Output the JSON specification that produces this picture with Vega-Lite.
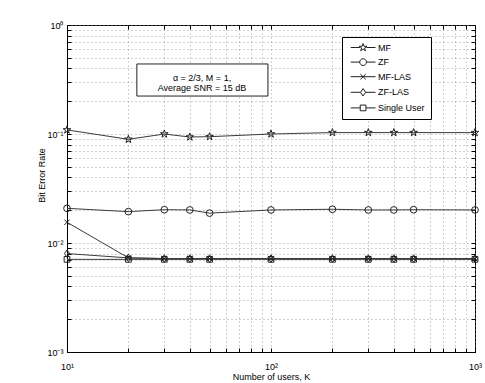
{
  "$schema": "https://vega.github.io/schema/vega-lite/v6.json",
  "width": 408,
  "height": 327,
  "autosize": {"type": "none"},
  "padding": {"left": 67, "top": 25, "right": 10, "bottom": 31},
  "background": "white",
  "config": {
    "font": "Liberation Sans",
    "view": {"stroke": "black", "strokeWidth": 1},
    "axis": {
      "domainColor": "black",
      "tickColor": "black",
      "labelColor": "black",
      "titleColor": "black",
      "labelFontSize": 9,
      "titleFontSize": 9,
      "titleFontWeight": "normal",
      "gridColor": "#8a8a8a",
      "gridDash": [1, 3],
      "gridWidth": 0.8,
      "tickSize": -4,
      "labelOverlap": false,
      "labelFlush": false,
      "labelBound": false
    }
  },
  "data": {
    "values": [
      {"series": "MF", "K": 10, "BER": 0.109},
      {"series": "MF", "K": 20, "BER": 0.0894},
      {"series": "MF", "K": 30, "BER": 0.100},
      {"series": "MF", "K": 40, "BER": 0.0938},
      {"series": "MF", "K": 50, "BER": 0.0945},
      {"series": "MF", "K": 100, "BER": 0.100},
      {"series": "MF", "K": 200, "BER": 0.103},
      {"series": "MF", "K": 300, "BER": 0.103},
      {"series": "MF", "K": 400, "BER": 0.103},
      {"series": "MF", "K": 500, "BER": 0.103},
      {"series": "MF", "K": 1000, "BER": 0.103},
      {"series": "ZF", "K": 10, "BER": 0.0208},
      {"series": "ZF", "K": 20, "BER": 0.0194},
      {"series": "ZF", "K": 30, "BER": 0.0202},
      {"series": "ZF", "K": 40, "BER": 0.0201},
      {"series": "ZF", "K": 50, "BER": 0.0188},
      {"series": "ZF", "K": 100, "BER": 0.0201},
      {"series": "ZF", "K": 200, "BER": 0.0204},
      {"series": "ZF", "K": 300, "BER": 0.0201},
      {"series": "ZF", "K": 400, "BER": 0.0201},
      {"series": "ZF", "K": 500, "BER": 0.0202},
      {"series": "ZF", "K": 1000, "BER": 0.0201},
      {"series": "MF-LAS", "K": 10, "BER": 0.0155},
      {"series": "MF-LAS", "K": 20, "BER": 0.0073},
      {"series": "MF-LAS", "K": 30, "BER": 0.0072},
      {"series": "MF-LAS", "K": 40, "BER": 0.0072},
      {"series": "MF-LAS", "K": 50, "BER": 0.0072},
      {"series": "MF-LAS", "K": 100, "BER": 0.0072},
      {"series": "MF-LAS", "K": 200, "BER": 0.0072},
      {"series": "MF-LAS", "K": 300, "BER": 0.0072},
      {"series": "MF-LAS", "K": 400, "BER": 0.0072},
      {"series": "MF-LAS", "K": 500, "BER": 0.0072},
      {"series": "MF-LAS", "K": 1000, "BER": 0.0072},
      {"series": "ZF-LAS", "K": 10, "BER": 0.0080},
      {"series": "ZF-LAS", "K": 20, "BER": 0.0073},
      {"series": "ZF-LAS", "K": 30, "BER": 0.0072},
      {"series": "ZF-LAS", "K": 40, "BER": 0.0072},
      {"series": "ZF-LAS", "K": 50, "BER": 0.0072},
      {"series": "ZF-LAS", "K": 100, "BER": 0.0072},
      {"series": "ZF-LAS", "K": 200, "BER": 0.0072},
      {"series": "ZF-LAS", "K": 300, "BER": 0.0072},
      {"series": "ZF-LAS", "K": 400, "BER": 0.0072},
      {"series": "ZF-LAS", "K": 500, "BER": 0.0072},
      {"series": "ZF-LAS", "K": 1000, "BER": 0.0072},
      {"series": "Single User", "K": 10, "BER": 0.00708},
      {"series": "Single User", "K": 20, "BER": 0.00708},
      {"series": "Single User", "K": 30, "BER": 0.00708},
      {"series": "Single User", "K": 40, "BER": 0.00708},
      {"series": "Single User", "K": 50, "BER": 0.00708},
      {"series": "Single User", "K": 100, "BER": 0.00708},
      {"series": "Single User", "K": 200, "BER": 0.00708},
      {"series": "Single User", "K": 300, "BER": 0.00708},
      {"series": "Single User", "K": 400, "BER": 0.00708},
      {"series": "Single User", "K": 500, "BER": 0.00708},
      {"series": "Single User", "K": 1000, "BER": 0.00708}
    ]
  },
  "layer": [
    {
      "layer": [
        {
          "mark": {"type": "line", "stroke": "#3a3a3a", "strokeWidth": 1},
          "encoding": {
            "x": {
              "field": "K", "type": "quantitative",
              "scale": {"type": "log", "domain": [10, 1000]},
              "axis": {
                "title": "Number of users, K",
                "titlePadding": 1,
                "labelPadding": 14,
                "values": [10, 20, 30, 40, 50, 60, 70, 80, 90, 100, 200, 300, 400, 500, 600, 700, 800, 900, 1000],
                "labelExpr": "datum.value == 10 ? '10¹' : datum.value == 100 ? '10²' : datum.value == 1000 ? '10³' : ''"
              }
            },
            "y": {
              "field": "BER", "type": "quantitative",
              "scale": {"type": "log", "domain": [0.001, 1]},
              "axis": {
                "title": "Bit Error Rate",
                "titleX": -26,
                "titleY": 150,
                "titleBaseline": "middle",
                "labelPadding": 8,
                "values": [0.001, 0.002, 0.003, 0.004, 0.005, 0.006, 0.007, 0.008, 0.009, 0.01, 0.02, 0.03, 0.04, 0.05, 0.06, 0.07, 0.08, 0.09, 0.1, 0.2, 0.3, 0.4, 0.5, 0.6, 0.7, 0.8, 0.9, 1],
                "labelExpr": "datum.value == 1 ? '10⁰' : datum.value == 0.1 ? '10⁻¹' : datum.value == 0.01 ? '10⁻²' : datum.value == 0.001 ? '10⁻³' : ''"
              }
            },
            "detail": {"field": "series"}
          }
        },
        {
          "mark": {"type": "point", "filled": false, "stroke": "#222", "strokeWidth": 1, "size": 45, "opacity": 1},
          "encoding": {
            "x": {"field": "K", "type": "quantitative"},
            "y": {"field": "BER", "type": "quantitative"},
            "shape": {
              "field": "series", "type": "nominal",
              "scale": {
                "domain": ["MF", "ZF", "MF-LAS", "ZF-LAS", "Single User"],
                "range": [
                  "M0,-1.2L0.27,-0.37L1.14,-0.37L0.44,0.14L0.71,0.97L0,0.46L-0.71,0.97L-0.44,0.14L-1.14,-0.37L-0.27,-0.37Z",
                  "circle",
                  "M-0.8,-0.8L0.8,0.8M-0.8,0.8L0.8,-0.8",
                  "M0,-1.1L0.75,0L0,1.1L-0.75,0Z",
                  "M-0.85,-0.85L0.85,-0.85L0.85,0.85L-0.85,0.85Z"
                ]
              },
              "legend": null
            }
          }
        },
        {
          "transform": [{"filter": "datum.K < 0"}],
          "mark": {"type": "point", "filled": false, "stroke": "#222", "strokeWidth": 1, "size": 45, "opacity": 1},
          "encoding": {
            "x": {"field": "K", "type": "quantitative"},
            "y": {"field": "BER", "type": "quantitative"},
            "shape": {
              "field": "series", "type": "nominal",
              "scale": {
                "domain": ["MF", "ZF", "MF-LAS", "ZF-LAS", "Single User"],
                "range": [
                  "M-3.7,0L-0.95,0M0.95,0L3.7,0M0,-1.2L0.27,-0.37L1.14,-0.37L0.44,0.14L0.71,0.97L0,0.46L-0.71,0.97L-0.44,0.14L-1.14,-0.37L-0.27,-0.37Z",
                  "M-3.7,0L-1,0M1,0L3.7,0M1,0A1,1 0 1,1 -1,0A1,1 0 1,1 1,0",
                  "M-3.7,0L3.7,0M-0.8,-0.8L0.8,0.8M-0.8,0.8L0.8,-0.8",
                  "M-3.7,0L-0.75,0M0.75,0L3.7,0M0,-1.1L0.75,0L0,1.1L-0.75,0Z",
                  "M-3.7,0L-0.85,0M0.85,0L3.7,0M-0.85,-0.85L0.85,-0.85L0.85,0.85L-0.85,0.85Z"
                ]
              },
              "legend": {
                "title": null,
                "orient": "none",
                "legendX": 275,
                "legendY": 12,
                "padding": 6,
                "strokeColor": "black",
                "fillColor": "white",
                "labelFontSize": 9,
                "labelColor": "black",
                "symbolSize": 45,
                "symbolOffset": 10.6,
                "labelOffset": 10.5,
                "rowPadding": 3.6,
                "symbolStrokeWidth": 1,
                "symbolStrokeColor": "#222",
                "symbolFillColor": "transparent",
                "symbolOpacity": 1
              }
            }
          }
        },
        {
          "data": {"values": [{}]},
          "mark": {"type": "rect", "fill": "white", "stroke": "#222", "strokeWidth": 1},
          "encoding": {
            "x": {"datum": 22.0},
            "x2": {"datum": 96.6},
            "y": {"datum": 0.439},
            "y2": {"datum": 0.223}
          }
        },
        {
          "data": {"values": [{}]},
          "mark": {"type": "text", "text": ["α = 2/3, M = 1,", "Average SNR = 15 dB"], "fontSize": 9, "lineHeight": 10.5, "align": "center", "baseline": "middle", "color": "black"},
          "encoding": {
            "x": {"datum": 45.9},
            "y": {"datum": 0.3265}
          }
        }
      ],
      "resolve": {"scale": {"shape": "independent"}}
    },
    {
      "mark": {"type": "point", "opacity": 0},
      "encoding": {
        "x": {"field": "K", "type": "quantitative", "axis": {"orient": "top", "labels": false, "title": null, "grid": false, "domain": false, "values": [10, 20, 30, 40, 50, 60, 70, 80, 90, 100, 200, 300, 400, 500, 600, 700, 800, 900, 1000]}},
        "y": {"field": "BER", "type": "quantitative", "axis": {"orient": "right", "labels": false, "title": null, "grid": false, "domain": false, "values": [0.001, 0.002, 0.003, 0.004, 0.005, 0.006, 0.007, 0.008, 0.009, 0.01, 0.02, 0.03, 0.04, 0.05, 0.06, 0.07, 0.08, 0.09, 0.1, 0.2, 0.3, 0.4, 0.5, 0.6, 0.7, 0.8, 0.9, 1]}}
      }
    }
  ],
  "resolve": {"axis": {"x": "independent", "y": "independent"}}
}
